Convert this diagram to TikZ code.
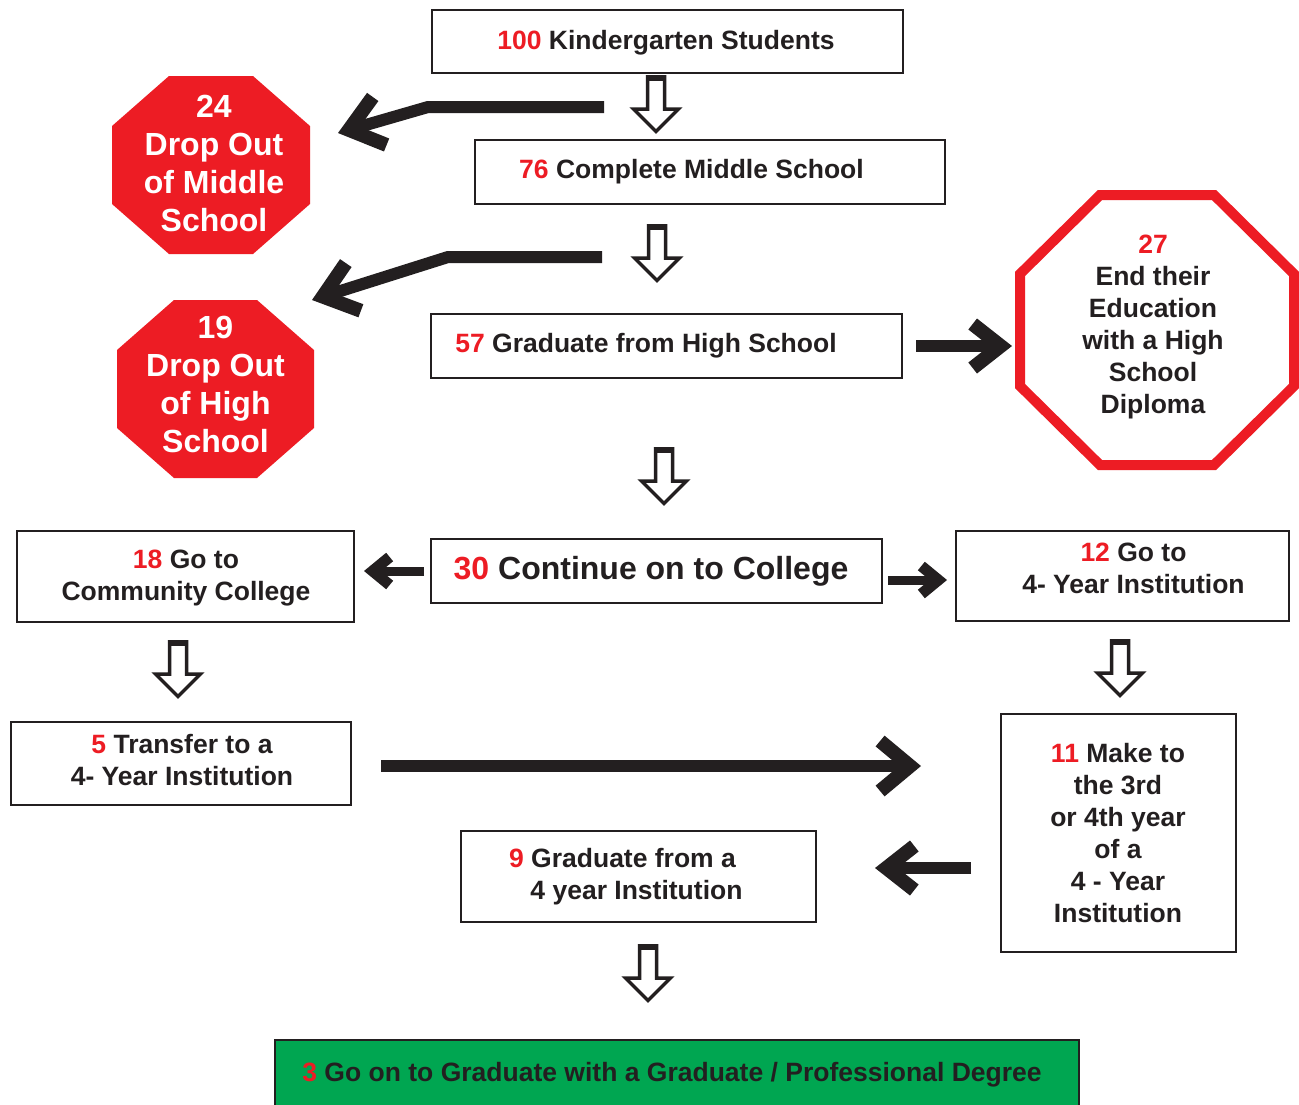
\documentclass[tikz,border=0pt]{standalone}
\usepackage{fontspec}
\setmainfont{Liberation Sans}
\usetikzlibrary{arrows.meta}
\definecolor{sred}{HTML}{ED1C24}
\definecolor{sgreen}{HTML}{00A651}
\definecolor{ink}{HTML}{231F20}
\newcommand{\rn}[1]{\textcolor{sred}{#1}}
\newcommand{\myoct}[7]{\path[#1] (#2-#4+#6,#3-#5) -- (#2+#4-#6,#3-#5) -- (#2+#4,#3-#5+#7) -- (#2+#4,#3+#5-#7) -- (#2+#4-#6,#3+#5) -- (#2-#4+#6,#3+#5) -- (#2-#4,#3+#5-#7) -- (#2-#4,#3-#5+#7) -- cycle;}
\tikzset{
  hollow/.pic={
    \draw[ink,fill=white,line width=3.5pt,line join=miter] (-8.5,1.75) -- (-8.5,34) -- (-22.5,34) -- (0,56.5) -- (22.5,34) -- (8.5,34) -- (8.5,1.75) -- cycle;
    \draw[ink,line width=6pt] (-10.25,3) -- (10.25,3);
  }
}
\begin{document}
\begin{tikzpicture}[x=1pt,y=-1pt,
  box/.style={draw=ink,line width=2pt,inner sep=0pt,fill=white},
  txt/.style={text=ink,align=center,inner sep=0pt,font=\bfseries\fontsize{26.5}{32}\selectfont},
  bigtxt/.style={text=ink,inner sep=0pt,font=\bfseries\fontsize{32}{38}\selectfont},
  octtxt/.style={text=white,align=center,inner sep=0pt,font=\bfseries\fontsize{32}{38.3}\selectfont},
  bigarrow/.style={draw=ink,line width=12pt,line join=miter,-{Straight Barb[length=28pt,width=44pt,line width=14pt]}},
  smallarrow/.style={draw=ink,line width=9pt,line join=miter,-{Straight Barb[length=17pt,width=28pt,line width=11pt]}}
]
\useasboundingbox (0,0) rectangle (1299,1104);
\clip (0,0) rectangle (1299,1104);
\fill[white] (0,0) rectangle (1299,1104);

% boxes
\node[box,minimum width=471pt,minimum height=63pt] (k) at (667.5,41.5) {};
\node[box,minimum width=470pt,minimum height=64pt] (m) at (710,172) {};
\node[box,minimum width=471pt,minimum height=64pt] (hs) at (666.5,346) {};
\node[box,minimum width=451pt,minimum height=64pt] (col) at (656.5,571) {};
\node[box,minimum width=337pt,minimum height=91pt] (cc) at (185.5,576.5) {};
\node[box,minimum width=333pt,minimum height=90pt] (fy) at (1122.5,576) {};
\node[box,minimum width=340pt,minimum height=83pt] (tr) at (181,763.5) {};
\node[box,minimum width=235pt,minimum height=238pt] (mk) at (1118.5,833) {};
\node[box,minimum width=355pt,minimum height=91pt] (g4) at (638.5,876.5) {};
\node[box,fill=sgreen,minimum width=804pt,minimum height=66pt] (gr) at (677,1073) {};

% octagons
\myoct{fill=sred}{211}{165}{99}{89}{57}{50}
\myoct{fill=sred}{215.5}{389}{98.5}{89}{57}{50}
\myoct{draw=sred,line width=10pt,line join=miter}{1157}{330}{137}{135}{80}{79}

% texts
\node[txt,anchor=base] (kt) at (666,49.3) {\rn{100} Kindergarten Students};
\node[txt,anchor=base] (mt) at (691.5,178.3) {\rn{76} Complete Middle School};
\node[txt,anchor=base] (hst) at (646,352.3) {\rn{57} Graduate from High School};
\node[bigtxt,anchor=base] (colt) at (651,579.5) {\rn{30} Continue on to College};
\node[txt] (cct) at (186,578.5) {\rn{18} Go to\\Community College};
\node[txt] (fyt) at (1133.5,568) {\rn{12} Go to\\4- Year Institution};
\node[txt] (trt) at (182,760) {\rn{5} Transfer to a\\4- Year Institution};
\node[txt] (mkt) at (1118,833) {\rn{11} Make to\\the 3rd\\or 4th year\\of a\\4 - Year\\Institution};
\node[txt,anchor=base] (g4a) at (622.5,867.3) {\rn{9} Graduate from a};
\node[txt,anchor=base] (g4b) at (636.5,899.3) {4 year Institution};
\node[txt,anchor=base] (grt) at (672,1081.3) {\rn{3} Go on to Graduate with a Graduate / Professional Degree};
\node[octtxt] (o1) at (214,163.5) {24\\Drop Out\\of Middle\\School};
\node[octtxt] (o2) at (215.5,384.5) {19\\Drop Out\\of High\\School};
\node[txt] (o3) at (1153,326.5) {\rn{27}\\End their\\Education\\with a High\\School\\Diploma};

% hollow down arrows
\pic (a1) at (656,75) {hollow};
\pic (a2) at (657,224) {hollow};
\pic (a3) at (664,447) {hollow};
\pic (a4) at (178,640) {hollow};
\pic (a5) at (1120,639) {hollow};
\pic (a6) at (648,944) {hollow};

% solid arrows
\coordinate (b1s) at (604,107); \coordinate (b1m) at (428,107); \coordinate (b1e) at (338,133);
\coordinate (b2s) at (602,257); \coordinate (b2m) at (448,257); \coordinate (b2e) at (312,300);
\coordinate (b3s) at (916,346); \coordinate (b3e) at (1012,346);
\coordinate (b4s) at (424,571); \coordinate (b4e) at (364,571);
\coordinate (b5s) at (888,580); \coordinate (b5e) at (947,580);
\coordinate (b6s) at (971,868); \coordinate (b6e) at (875,868);
\coordinate (b7s) at (381,766); \coordinate (b7e) at (921,766);
\draw[bigarrow,-{Straight Barb[length=32pt,width=50pt,line width=14pt]}] (b1s) -- (b1m) -- (b1e);
\draw[bigarrow,-{Straight Barb[length=32pt,width=50pt,line width=14pt]}] (b2s) -- (b2m) -- (b2e);
\draw[bigarrow] (b3s) -- (b3e);
\draw[smallarrow] (b4s) -- (b4e);
\draw[smallarrow] (b5s) -- (b5e);
\draw[bigarrow] (b6s) -- (b6e);
\draw[bigarrow,-{Straight Barb[length=30pt,width=50pt,line width=14pt]}] (b7s) -- (b7e);
\end{tikzpicture}
\end{document}
